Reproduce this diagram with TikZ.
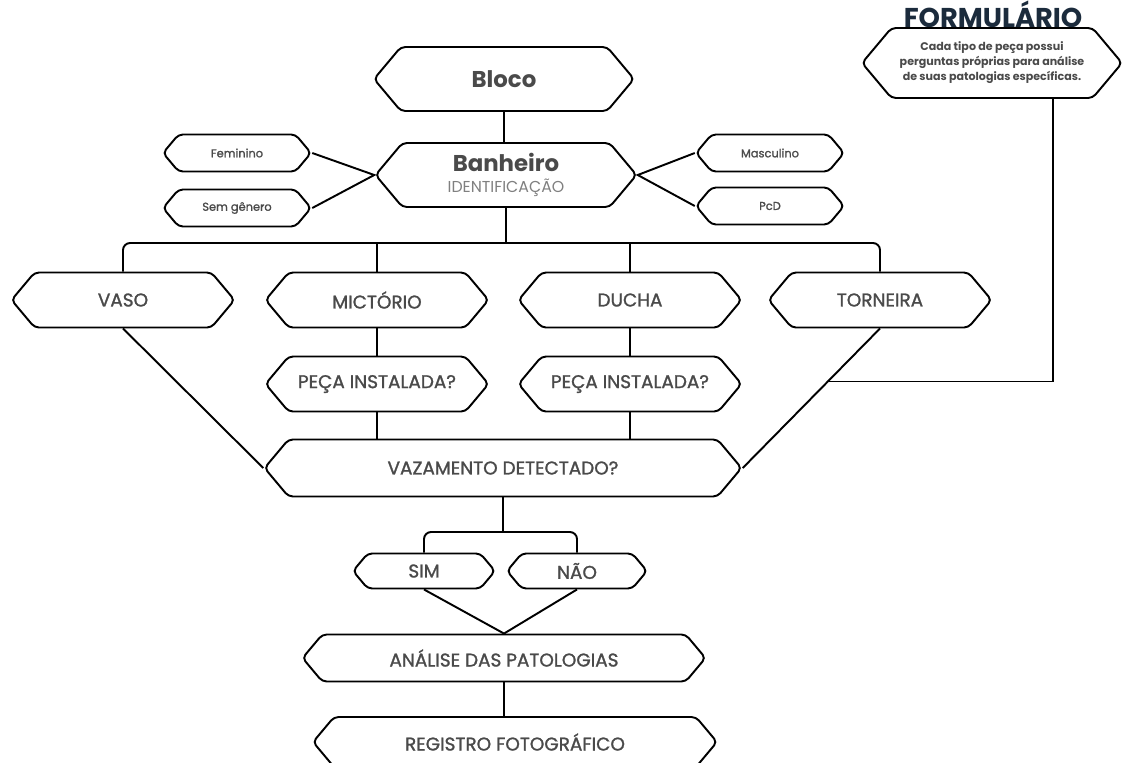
\documentclass[tikz,border=0pt]{standalone}
\usepackage{fontspec}
\setmainfont{Poppins}
\newfontfamily\medfont{Poppins}[FakeBold=1.3]
\usepackage{xcolor}
\usetikzlibrary{shapes.symbols,positioning,calc}
\definecolor{txtgray}{HTML}{4A4A4A}
\definecolor{idgray}{HTML}{808080}
\definecolor{formnavy}{HTML}{1B2B3C}
\tikzset{
  hexa/.style={draw, signal, signal to=east and west, signal pointer angle=100,
               line width=1.1pt, rounded corners=2.5pt, fill=white, text=txtgray,
               align=center, inner sep=1pt},
  bighex/.style={hexa, minimum width=5.2cm, minimum height=1.28cm,
                 font=\fontsize{13}{15}\selectfont\bfseries},
  midhex/.style={hexa, minimum width=4.46cm, minimum height=1.1cm,
                 font=\fontsize{10.5}{12}\selectfont\medfont},
  smallhex/.style={hexa, minimum width=2.96cm, minimum height=0.74cm,
                   font=\fontsize{6.5}{8}\selectfont\medfont},
  link/.style={line width=1.1pt},
}

\begin{document}
\begin{tikzpicture}[x=0.02cm, y=-0.02cm]
  \useasboundingbox (0,0) rectangle (1125,762);

  % top part
  \node[bighex] (bloco) at (504,79) {Bloco};
  \node[bighex, minimum width=5.22cm] (banheiro) at (506,175)
    {Banheiro\\[-3pt]{\fontsize{9}{10}\selectfont\mdseries\color{idgray}IDENTIFICAÇÃO}};
  \node[smallhex] (feminino) at (237,153) {Feminino};
  \node[smallhex] (semgenero) at (237,208) {Sem gênero};
  \node[smallhex] (masculino) at (770,153) {Masculino};
  \node[smallhex] (pcd) at (770,206) {PcD};

  % formulario
  \node[anchor=base, inner sep=0pt, font=\fontsize{15.5}{17}\selectfont\bfseries,
        text=formnavy] (formtitle) at (993,27) {FORMULÁRIO};
  \node[hexa, minimum width=5.2cm, minimum height=1.4cm,
        font=\fontsize{6.3}{8.5}\selectfont\bfseries] (formbox) at (992,63)
    {Cada tipo de peça possui\\perguntas próprias para análise\\de suas patologias específicas.};

  % pecas
  \node[midhex] (vaso) at (123,300) {VASO};
  \node[midhex] (mictorio) at (377,300) {MICTÓRIO};
  \node[midhex] (ducha) at (630,300) {DUCHA};
  \node[midhex] (torneira) at (880,300) {TORNEIRA};
  \node[midhex] (pecaA) at (377,384) {PEÇA INSTALADA?};
  \node[midhex] (pecaB) at (630,384) {PEÇA INSTALADA?};
  \node[midhex, minimum width=9.54cm, minimum height=1.14cm] (vazamento) at (503,468) {VAZAMENTO DETECTADO?};

  % resposta
  \node[midhex, minimum width=2.84cm, minimum height=0.7cm] (sim) at (424,571) {SIM};
  \node[midhex, minimum width=2.8cm, minimum height=0.7cm] (nao) at (577,571) {NÃO};
  \node[midhex, minimum width=8.06cm, minimum height=0.94cm] (analise) at (504,658) {ANÁLISE DAS PATOLOGIAS};
  \node[midhex, minimum width=8.08cm, minimum height=1.0cm] (registro) at (515,742) {REGISTRO FOTOGRÁFICO};

  % connectors
  \coordinate (pecabus) at (506,243);
  \coordinate (simbus) at (503,532);
  \coordinate (tjunc) at ($(torneira.south)!0.38!(vazamento.east)$);
  \draw[link] (bloco.south) -- (bloco.south |- banheiro.north);
  \draw[link] (feminino.east) -- (banheiro.west) -- (semgenero.east);
  \draw[link] (masculino.west) -- (banheiro.east) -- (pcd.west);
  \draw[link, rounded corners=4pt] (vaso.north) |- (pecabus) -| (torneira.north);
  \draw[link] (banheiro.south) -- (banheiro.south |- pecabus);
  \draw[link] (mictorio.north) -- (mictorio.north |- pecabus);
  \draw[link] (ducha.north) -- (ducha.north |- pecabus);
  \draw[link] (mictorio.south) -- (pecaA.north);
  \draw[link] (ducha.south) -- (pecaB.north);
  \draw[link] (pecaA.south) -- (pecaA.south |- vazamento.north);
  \draw[link] (pecaB.south) -- (pecaB.south |- vazamento.north);
  \draw[link] (vaso.south) -- (vazamento.west);
  \draw[link] (torneira.south) -- (vazamento.east);
  \draw[link] ([xshift=1.22cm]formbox.south) |- (tjunc);
  \draw[link] (vazamento.south) -- (vazamento.south |- simbus);
  \draw[link, rounded corners=4pt] (sim.north) |- (simbus) -| (nao.north);
  \draw[link] (sim.south) -- (analise.north) -- (nao.south);
  \draw[link] (analise.south) -- (analise.south |- registro.north);
\end{tikzpicture}
\end{document}
